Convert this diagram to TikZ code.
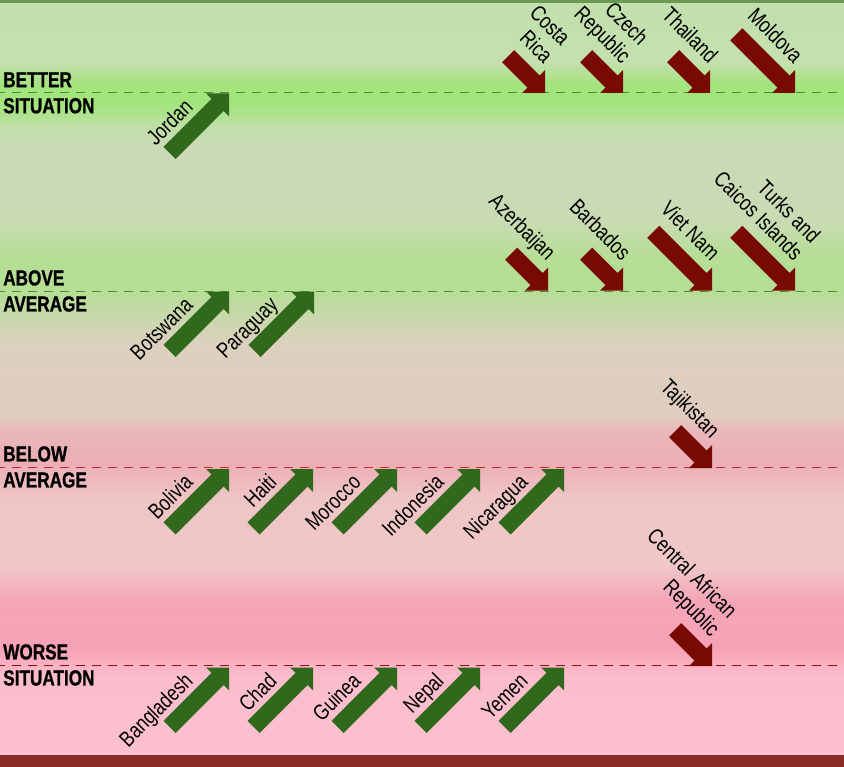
\documentclass[tikz,border=0pt]{standalone}
\usepackage{fontspec}
\setmainfont{Liberation Sans}
\newfontfamily\labelfont[FakeStretch=0.8]{Liberation Sans}
\newfontfamily\headfont[FakeStretch=0.79,FakeBold=1]{Liberation Sans Bold}

\definecolor{upgreen}{HTML}{31691C}
\definecolor{downred}{HTML}{780A02}
\definecolor{topline}{HTML}{6A9A52}
\definecolor{bottombar}{HTML}{8C2D25}
\definecolor{greendash}{HTML}{4F8A3A}
\definecolor{reddash}{HTML}{D8262A}
\definecolor{darkdash}{HTML}{8A1010}
\definecolor{s0}{HTML}{C2DFAE}
\definecolor{s1}{HTML}{C4E0AF}
\definecolor{s2}{HTML}{A4E47E}
\definecolor{s3}{HTML}{A2E47C}
\definecolor{s4}{HTML}{C0DFAA}
\definecolor{s5}{HTML}{CAD9B6}
\definecolor{s6}{HTML}{C9DBB3}
\definecolor{s7}{HTML}{B6DE96}
\definecolor{s8}{HTML}{B4DE94}
\definecolor{s9}{HTML}{C9D8AC}
\definecolor{s10}{HTML}{DDD0BF}
\definecolor{s11}{HTML}{DFCDBF}
\definecolor{s12}{HTML}{E9B8BA}
\definecolor{s13}{HTML}{EBAEB4}
\definecolor{s14}{HTML}{EFC4C5}
\definecolor{s15}{HTML}{F0C8C8}
\definecolor{s16}{HTML}{F5A5B8}
\definecolor{s17}{HTML}{F7A2B6}
\definecolor{s18}{HTML}{FBBDCC}
\definecolor{s19}{HTML}{FCC0CF}

\tikzset{
  up arrow/.style={fill=upgreen},
  down arrow/.style={fill=downred},
  country/.style={font=\labelfont\fontsize{16.5}{18.5}\selectfont, inner sep=0pt, align=right, anchor=south east, execute at end node=\strut},
  rating/.style={font=\headfont\fontsize{16.3}{19.5}\selectfont, inner sep=0pt, align=left, anchor=north west},
  level/.style={line width=0.75pt, dash pattern=on 6.75pt off 5.25pt, dash phase=3pt},
}

\newcommand\gooddir[4]{
  \fill[up arrow, shift={(#2,#3)}, rotate=45] (0,0) -- (-16.26,16.26) -- (-16.26,8.6) -- (-84,8.6) -- (-84,-8.6) -- (-16.26,-8.6) -- (-16.26,-16.26) -- cycle;
  \node[country, rotate=45] (#1) at (#2-29.4,#3+20.1) {#4};
}
\newcommand\baddir[5]{
  \fill[down arrow, shift={(#2,#3)}, rotate=-45] (0,0) -- (-16.26,16.26) -- (-16.26,8.6) -- (-#4,8.6) -- (-#4,-8.6) -- (-16.26,-8.6) -- (-16.26,-16.26) -- cycle;
  \node[country, rotate=-45] (#1) at (#2-6.6,#3-23.1) {#5};
}

\begin{document}
\begin{tikzpicture}[x=0.75pt,y=-0.75pt]
    \useasboundingbox (0,0) rectangle (844,767);
    \foreach \ya/\ca/\yb/\cb in {3/s0/62/s1, 62/s1/84/s2, 84/s2/104/s3, 104/s3/128/s4, 128/s4/150/s5, 150/s5/222/s6, 222/s6/255/s7, 255/s7/288/s8, 288/s8/318/s9, 318/s9/345/s10, 345/s10/415/s11, 415/s11/430/s12, 430/s12/462/s13, 462/s13/495/s14, 495/s14/565/s15, 565/s15/600/s16, 600/s16/648/s17, 648/s17/676/s18, 676/s18/755/s19}
        \shade[top color=\ca, bottom color=\cb] (0,\ya-0.3) rectangle (844,\yb+0.3);
    \fill[topline] (0,0) rectangle (844,3);
    \fill[bottombar] (0,755) rectangle (844,767);

    \draw[level, greendash] (0,93) -- (844,93);
    \draw[level, greendash] (0,291) -- (844,291);
    \draw[level, reddash] (0,467) -- (844,467);
    \draw[level, darkdash] (0,665) -- (844,665);

    \node[rating] (better) at (3,72) {BETTER\\SITUATION};
    \node[rating] (above) at (3,270) {ABOVE\\AVERAGE};
    \node[rating] (below) at (3,446) {BELOW\\AVERAGE};
    \node[rating] (worse) at (3,644) {WORSE\\SITUATION};

    \gooddir{jordan}{229}{93.5}{Jordan}
    \baddir{costarica}{545}{93}{52}{Costa\\Rica}
    \baddir{czech}{623}{93}{52}{Czech\\Republic}
    \baddir{thailand}{710}{93}{52}{Thailand}
    \baddir{moldova}{795}{93}{83}{Moldova}

    \gooddir{botswana}{229}{291.5}{Botswana}
    \gooddir{paraguay}{314}{291.5}{Paraguay}
    \baddir{azerbaijan}{548}{290.5}{52}{Azerbaijan}
    \baddir{barbados}{623}{290.5}{52}{Barbados}
    \baddir{vietnam}{712}{290.5}{83}{Viet Nam}
    \baddir{turks}{795}{290.5}{83}{Turks and\\Caicos Islands}

    \gooddir{bolivia}{229}{469}{Bolivia}
    \gooddir{haiti}{313}{469}{Haiti}
    \gooddir{morocco}{397}{469}{Morocco}
    \gooddir{indonesia}{480}{469}{Indonesia}
    \gooddir{nicaragua}{564}{469}{Nicaragua}
    \baddir{tajikistan}{712}{468}{52}{Tajikistan}

    \gooddir{bangladesh}{229}{667.5}{Bangladesh}
    \gooddir{chad}{313}{667.5}{Chad}
    \gooddir{guinea}{397}{667.5}{Guinea}
    \gooddir{nepal}{480}{667.5}{Nepal}
    \gooddir{yemen}{564}{667.5}{Yemen}
    \baddir{car}{712}{666}{52}{Central African\\Republic}
\end{tikzpicture}
\end{document}
